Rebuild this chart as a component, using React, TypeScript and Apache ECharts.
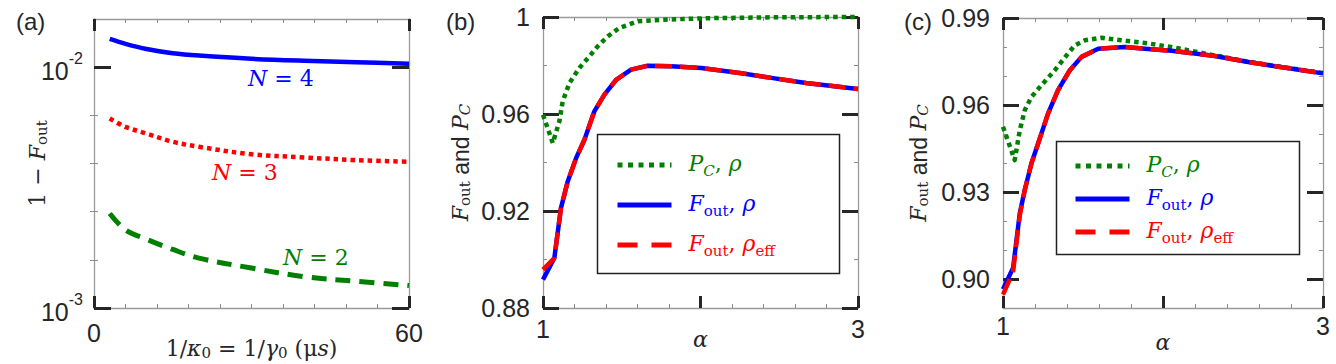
import React, { useEffect, useRef } from "react";
import * as echarts from "echarts";

// ---------------- Panel (a): 1 - F_out vs 1/kappa0 ----------------
const invKappa = [3, 6, 10, 15, 20, 30, 40, 50, 60];
const infidN4 = [0.0131, 0.0125, 0.0119, 0.01143, 0.01117, 0.01083, 0.01063, 0.01049, 0.01033];
const infidN3 = [0.00612, 0.00565, 0.0053, 0.0049, 0.00467, 0.00435, 0.00422, 0.00411, 0.00405];
const infidN2 = [0.00247, 0.00211, 0.00193, 0.00175, 0.00161, 0.001465, 0.00135, 0.00129, 0.00124];
const aXMajor = [0, 60];
const aXMinor = [6, 12, 18, 24, 30, 36, 42, 48, 54];
// y axis of panel (a) is logarithmic: values below are decade exponents
const aYMajorExp = [-3, -2];
const aYMinorExp = [-2.8, -2.6, -2.4, -2.2];
const aYRangeExp = [-3, -1.8];

// ---------------- Panel (b) ----------------
const alphaPcB = [1, 1.062, 1.104, 1.125, 1.168, 1.231, 1.295, 1.347, 1.411, 1.485, 1.601, 1.771, 2.04, 2.5, 3];
const pcB = [0.9597, 0.948, 0.957, 0.9652, 0.9728, 0.979, 0.9838, 0.9879, 0.992, 0.9955, 0.9982, 0.9989, 0.9995, 0.9999, 1.0];
const alphaFB = [1, 1.072, 1.114, 1.157, 1.21, 1.263, 1.326, 1.39, 1.464, 1.559, 1.665, 1.813, 2.005, 2.249, 2.46, 2.67, 3];
const foutB = [0.8917, 0.9006, 0.9212, 0.9322, 0.9418, 0.9494, 0.9611, 0.968, 0.9741, 0.9783, 0.9799, 0.9797, 0.979, 0.9769, 0.9748, 0.9728, 0.9703];
const foutEffB = [0.8958, 0.9006, 0.9212, 0.9322, 0.9418, 0.9494, 0.9611, 0.968, 0.9741, 0.9783, 0.9799, 0.9797, 0.979, 0.9769, 0.9748, 0.9728, 0.9703];
const bYMajor = [0.88, 0.92, 0.96, 1.0];
const bYMinor = [0.9, 0.94, 0.98];

// ---------------- Panel (c) ----------------
const alphaPcC = [1, 1.073, 1.105, 1.136, 1.178, 1.24, 1.324, 1.397, 1.449, 1.512, 1.616, 1.741, 1.887, 2.05, 2.315, 2.524, 2.733, 3];
const pcC = [0.9525, 0.941, 0.9513, 0.9582, 0.9628, 0.9668, 0.972, 0.9771, 0.9806, 0.9823, 0.9832, 0.9823, 0.9814, 0.98, 0.9772, 0.975, 0.9732, 0.971];
const alphaFC = [1, 1.063, 1.105, 1.136, 1.178, 1.22, 1.282, 1.344, 1.418, 1.491, 1.595, 1.762, 1.887, 2.054, 2.315, 2.524, 2.733, 3];
const foutC = [0.8965, 0.9038, 0.9227, 0.9307, 0.9399, 0.9468, 0.9571, 0.9651, 0.972, 0.9766, 0.9794, 0.98, 0.9794, 0.9787, 0.977, 0.9749, 0.9731, 0.9709];
const foutEffC = [0.8946, 0.9025, 0.922, 0.9307, 0.9399, 0.9468, 0.9571, 0.9651, 0.972, 0.9766, 0.9794, 0.98, 0.9794, 0.9787, 0.977, 0.9749, 0.9731, 0.9709];
const cYMajor = [0.9, 0.93, 0.96, 0.99];
const cYMinor = [0.91, 0.92, 0.94, 0.95, 0.97, 0.98];

// shared alpha ticks
const alphaMajor = [1, 2, 3];
const alphaMinor = [1.2, 1.4, 1.6, 1.8, 2.2, 2.4, 2.6, 2.8];
const alphaLabels = [1, 3];

const NAME_PC = "P_C, ρ";
const NAME_F = "F_out, ρ";
const NAME_FEFF = "F_out, ρ_eff";

const BLUE = "#0000ff";
const RED = "#ff0000";
const GREEN = "#008000";
const FRAME = "#9a9a9a";
const MAJOR = "#262626";
const MINORC = "#8c8c8c";
const TXT = "#262626";
const SANS = "Liberation Sans, Arial, sans-serif";
const SERIF = "DejaVu Serif, serif";

const mathRich = (color: string, size = 22, lh = 26) => ({
  i: { fontFamily: SERIF, fontStyle: "italic", fontSize: size, lineHeight: lh, verticalAlign: "top", color },
  r: { fontFamily: SERIF, fontSize: size, lineHeight: lh, verticalAlign: "top", color },
  a: { fontFamily: SANS, fontSize: size + 1, lineHeight: lh, verticalAlign: "top", color },
  s: { fontFamily: SERIF, fontSize: 15, lineHeight: 15, padding: [lh - 15, 0, 0, 0], verticalAlign: "top", color },
  c: { fontFamily: SERIF, fontStyle: "italic", fontSize: 15, lineHeight: 15, padding: [lh - 15, 0, 0, 0], verticalAlign: "top", color },
});

const legendRich: any = { g: { width: 12 } };
[["G", GREEN], ["B", BLUE], ["R", RED]].forEach(([k, c]) => {
  const m: any = mathRich(c);
  legendRich["i" + k] = m.i;
  legendRich["r" + k] = m.r;
  legendRich["s" + k] = m.s;
  legendRich["c" + k] = m.c;
});
const legendText: Record<string, string> = {
  [NAME_PC]: "{g| }{iG|P}{cG|C}{rG|, }{iG|ρ}",
  [NAME_F]: "{g| }{iB|F}{sB|out}{rB|, }{iB|ρ}",
  [NAME_FEFF]: "{g| }{iR|F}{sR|out}{rR|, }{iR|ρ}{sR|eff}",
};

type AxisSpec = {
  dim: "x" | "y";
  grid: number;
  min: number;
  max: number;
  major: number[];
  minor: number[];
  labels: number[];
  fmt: (v: number) => string;
  majorLen: number;
  margin: number;
  rich?: any;
  name?: string;
  nameGap?: number;
};

function buildAxes(s: AxisSpec) {
  const [p1, p2] = s.dim === "x" ? ["bottom", "top"] : ["left", "right"];
  const base: any = {
    type: "value",
    gridIndex: s.grid,
    min: s.min,
    max: s.max,
    splitLine: { show: false },
    minorTick: { show: false },
    minorSplitLine: { show: false },
  };
  const majorTick = {
    show: true,
    inside: true,
    length: s.majorLen,
    lineStyle: { color: MAJOR, width: 3 },
    customValues: s.major,
  };
  const minorTick = {
    show: true,
    inside: true,
    length: 4,
    lineStyle: { color: MINORC, width: 1 },
    customValues: s.minor,
  };
  const line = { show: true, onZero: false, lineStyle: { color: FRAME, width: 1.3 } };
  const main: any = {
    ...base,
    position: p1,
    axisLine: line,
    axisTick: majorTick,
    axisLabel: {
      show: true,
      customValues: s.labels,
      formatter: s.fmt,
      margin: s.margin,
      color: TXT,
      fontFamily: SANS,
      fontSize: 25,
      rich: s.rich,
    },
  };
  if (s.name) {
    main.name = s.name;
    main.nameLocation = "middle";
    main.nameGap = s.nameGap;
    main.nameMoveOverlap = false;
    if (s.dim === "y") main.nameRotate = 90;
    main.nameTextStyle = { rich: mathRich(TXT, 22, 23), color: TXT };
  }
  const mainMinor = { ...base, position: p1, axisLine: { show: false }, axisTick: minorTick, axisLabel: { show: false } };
  const opp = { ...base, position: p2, axisLine: line, axisTick: majorTick, axisLabel: { show: false } };
  const oppMinor = { ...base, position: p2, axisLine: { show: false }, axisTick: minorTick, axisLabel: { show: false } };
  return [main, mainMinor, opp, oppMinor];
}

const pairs = (xs: number[], ys: number[]) => xs.map((x, i) => [x, ys[i]]);

export default function App() {
  const ref = useRef<HTMLDivElement>(null);
  useEffect(() => {
    if (!ref.current) return;
    const chart = echarts.init(ref.current, undefined, { renderer: "svg" });

    const grids = [
      { left: 94, top: 19, width: 315, height: 289, outerBoundsMode: "none", containLabel: false },
      { left: 543, top: 17, width: 315, height: 291, outerBoundsMode: "none", containLabel: false },
      { left: 1003, top: 18, width: 320, height: 290, outerBoundsMode: "none", containLabel: false },
    ];

    const xAxes = [
      ...buildAxes({
        dim: "x", grid: 0, min: 0, max: 60, major: aXMajor, minor: aXMinor, labels: aXMajor,
        fmt: (v) => String(v), majorLen: 12, margin: 12,
        name: "{r|1/}{i|κ}{s|0}{r| = 1/}{i|γ}{s|0}{r| (μ}{i|s}{r|)}", nameGap: 29,
      }),
      ...buildAxes({
        dim: "x", grid: 1, min: 1, max: 3, major: alphaMajor, minor: alphaMinor, labels: alphaLabels,
        fmt: (v) => String(v), majorLen: 12, margin: 8, name: "{i|α}", nameGap: 20,
      }),
      ...buildAxes({
        dim: "x", grid: 2, min: 1, max: 3, major: alphaMajor, minor: alphaMinor, labels: alphaLabels,
        fmt: (v) => String(v), majorLen: 12, margin: 5, name: "{i|α}", nameGap: 23,
      }),
    ];
    const yAxes = [
      ...buildAxes({
        dim: "y", grid: 0, min: aYRangeExp[0], max: aYRangeExp[1], major: aYMajorExp, minor: aYMinorExp, labels: aYMajorExp,
        fmt: (v) => "{b|10}{e|" + Math.round(v) + "}", majorLen: 17, margin: 11,
        rich: {
          b: { fontFamily: SANS, fontSize: 25, lineHeight: 33, verticalAlign: "bottom", color: TXT },
          e: { fontFamily: SANS, fontSize: 16, lineHeight: 16, verticalAlign: "top", color: TXT },
        },
        name: "{r|1 − }{i|F}{s|out}", nameGap: 45,
      }),
      ...buildAxes({
        dim: "y", grid: 1, min: 0.88, max: 1.0, major: bYMajor, minor: bYMinor, labels: bYMajor,
        fmt: (v) => String(+v.toFixed(2)), majorLen: 16, margin: 13,
        name: "{i|F}{s|out}{a| and }{i|P}{c|C}", nameGap: 71,
      }),
      ...buildAxes({
        dim: "y", grid: 2, min: 0.89, max: 0.99, major: cYMajor, minor: cYMinor, labels: cYMajor,
        fmt: (v) => v.toFixed(2), majorLen: 16, margin: 13,
        name: "{i|F}{s|out}{a| and }{i|P}{c|C}", nameGap: 73,
      }),
    ];

    const line = (name: string, g: number, data: number[][], color: string, width: number, type: any, extra: any = {}) => ({
      type: "line",
      name,
      xAxisIndex: g * 4,
      yAxisIndex: g * 4,
      data,
      symbol: "none",
      showSymbol: false,
      silent: true,
      lineStyle: { color, width, type, cap: "butt", join: "round" },
      itemStyle: { color },
      ...extra,
    });

    const dotted = [4.5, 4];
    const dashedBC = [17, 8];
    const log10 = (arr: number[]) => arr.map((v) => Math.log10(v));

    const series = [
      line("N = 4", 0, pairs(invKappa, log10(infidN4)), BLUE, 4.5, "solid", { smooth: 0.35 }),
      line("N = 3", 0, pairs(invKappa, log10(infidN3)), RED, 4.5, dotted, { smooth: 0.35 }),
      line("N = 2", 0, pairs(invKappa, log10(infidN2)), GREEN, 5, [15, 9], { smooth: 0.35 }),
      line(NAME_PC, 1, pairs(alphaPcB, pcB), GREEN, 4.5, dotted, { clip: false }),
      line(NAME_F, 1, pairs(alphaFB, foutB), BLUE, 4.5, "solid"),
      line(NAME_FEFF, 1, pairs(alphaFB, foutEffB), RED, 4.5, dashedBC),
      line(NAME_PC + " ", 2, pairs(alphaPcC, pcC), GREEN, 4.5, dotted, { clip: false }),
      line(NAME_F + " ", 2, pairs(alphaFC, foutC), BLUE, 4.5, "solid"),
      line(NAME_FEFF + " ", 2, pairs(alphaFC, foutEffC), RED, 4.5, dashedBC),
    ];

    const hidden = { color: "rgba(0,0,0,0)", opacity: 0, borderWidth: 0 };
    const legendData = (suffix: string) => [
      { name: NAME_PC + suffix, itemStyle: hidden, lineStyle: { color: GREEN, width: 5, type: [5, 5.5], cap: "butt" } },
      { name: NAME_F + suffix, itemStyle: hidden, lineStyle: { color: BLUE, width: 5, type: "solid" } },
      { name: NAME_FEFF + suffix, itemStyle: hidden, lineStyle: { color: RED, width: 5, type: [20, 14], cap: "butt" } },
    ];
    const legendBase = {
      orient: "vertical",
      itemWidth: 54,
      itemHeight: 14,
      padding: 0,
      selectedMode: false,
      formatter: (n: string) => legendText[n.trim()] || n,
      textStyle: { rich: legendRich },
      z: 6,
    };

    const legends = [
      { ...legendBase, left: 615, top: 152, itemGap: 14, data: legendData("") },
      { ...legendBase, left: 1073, top: 153, itemGap: 7, data: legendData(" ") },
    ];

    const nRich = (color: string) => ({
      n: { fontFamily: SERIF, fontStyle: "italic", fontSize: 22, fill: color },
      m: { fontFamily: SERIF, fontSize: 22, fill: color },
    });
    const panelLabel = (t: string, x: number) => ({
      type: "text", x, y: 21,
      style: { text: t, fontFamily: SANS, fontSize: 24, fill: TXT, verticalAlign: "middle" },
    });
    const graphic = [
      panelLabel("(a)", 16),
      panelLabel("(b)", 446),
      panelLabel("(c)", 904),
      { type: "text", x: 248, y: 78, style: { text: "{n|N}{m| = 4}", rich: nRich(BLUE), fill: BLUE, verticalAlign: "middle" } },
      { type: "text", x: 212, y: 172, style: { text: "{n|N}{m| = 3}", rich: nRich(RED), fill: RED, verticalAlign: "middle" } },
      { type: "text", x: 283, y: 257, style: { text: "{n|N}{m| = 2}", rich: nRich(GREEN), fill: GREEN, verticalAlign: "middle" } },
      { type: "rect", z: 4, shape: { x: 597.5, y: 134.5, width: 242, height: 139 }, style: { fill: "#fff", stroke: "#222", lineWidth: 1.5 } },
      { type: "rect", z: 4, shape: { x: 1056.5, y: 141.5, width: 243, height: 113 }, style: { fill: "#fff", stroke: "#222", lineWidth: 1.5 } },
    ];

    chart.setOption({
      animation: false,
      backgroundColor: "#ffffff",
      grid: grids,
      xAxis: xAxes,
      yAxis: yAxes,
      series,
      legend: legends,
      graphic,
    });
    return () => chart.dispose();
  }, []);

  return (
    <div
      ref={ref}
      style={{ position: "absolute", left: 0, top: 0, width: 1336, height: 364 }}
    />
  );
}
